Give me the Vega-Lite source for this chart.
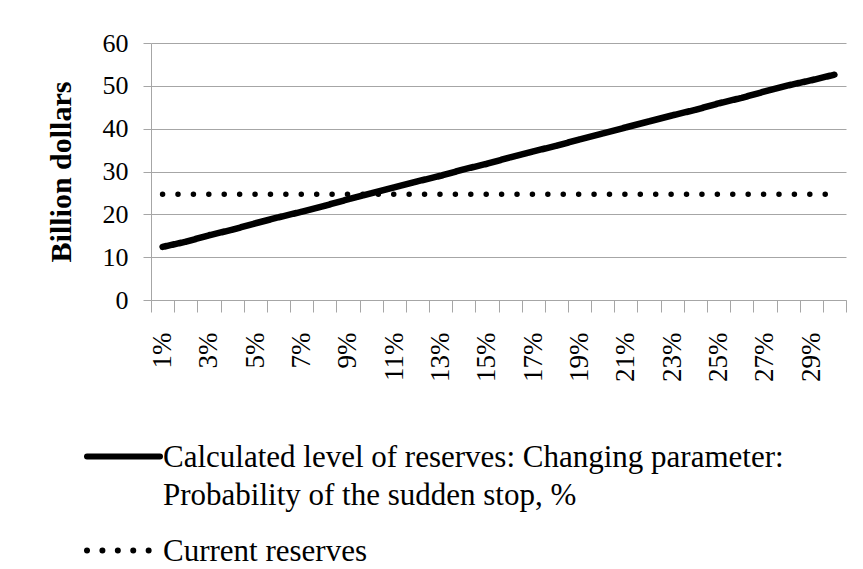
{
  "$schema": "https://vega.github.io/schema/vega-lite/v6.json",
  "width": 695,
  "height": 257,
  "autosize": {"type": "none"},
  "padding": {"left": 151, "top": 43, "right": 17, "bottom": 269},
  "background": "white",
  "config": {
    "view": {"stroke": null},
    "font": "Liberation Serif",
    "axis": {
      "labelFont": "Liberation Serif",
      "labelColor": "black",
      "domainColor": "#a6a6a6",
      "tickColor": "#a6a6a6",
      "gridColor": "#a6a6a6",
      "domainWidth": 1,
      "tickWidth": 1,
      "gridWidth": 1
    }
  },
  "data": {
    "values": [
      {"series": "Calculated level of reserves: Changing parameter: Probability of the sudden stop, %", "p": 1, "value": 12.4},
      {"series": "Calculated level of reserves: Changing parameter: Probability of the sudden stop, %", "p": 2, "value": 13.6},
      {"series": "Calculated level of reserves: Changing parameter: Probability of the sudden stop, %", "p": 3, "value": 15.1},
      {"series": "Calculated level of reserves: Changing parameter: Probability of the sudden stop, %", "p": 4, "value": 16.4},
      {"series": "Calculated level of reserves: Changing parameter: Probability of the sudden stop, %", "p": 5, "value": 17.9},
      {"series": "Calculated level of reserves: Changing parameter: Probability of the sudden stop, %", "p": 6, "value": 19.3},
      {"series": "Calculated level of reserves: Changing parameter: Probability of the sudden stop, %", "p": 7, "value": 20.6},
      {"series": "Calculated level of reserves: Changing parameter: Probability of the sudden stop, %", "p": 8, "value": 22.0},
      {"series": "Calculated level of reserves: Changing parameter: Probability of the sudden stop, %", "p": 9, "value": 23.5},
      {"series": "Calculated level of reserves: Changing parameter: Probability of the sudden stop, %", "p": 10, "value": 24.9},
      {"series": "Calculated level of reserves: Changing parameter: Probability of the sudden stop, %", "p": 11, "value": 26.3},
      {"series": "Calculated level of reserves: Changing parameter: Probability of the sudden stop, %", "p": 12, "value": 27.7},
      {"series": "Calculated level of reserves: Changing parameter: Probability of the sudden stop, %", "p": 13, "value": 29.0},
      {"series": "Calculated level of reserves: Changing parameter: Probability of the sudden stop, %", "p": 14, "value": 30.5},
      {"series": "Calculated level of reserves: Changing parameter: Probability of the sudden stop, %", "p": 15, "value": 31.8},
      {"series": "Calculated level of reserves: Changing parameter: Probability of the sudden stop, %", "p": 16, "value": 33.3},
      {"series": "Calculated level of reserves: Changing parameter: Probability of the sudden stop, %", "p": 17, "value": 34.7},
      {"series": "Calculated level of reserves: Changing parameter: Probability of the sudden stop, %", "p": 18, "value": 36.0},
      {"series": "Calculated level of reserves: Changing parameter: Probability of the sudden stop, %", "p": 19, "value": 37.5},
      {"series": "Calculated level of reserves: Changing parameter: Probability of the sudden stop, %", "p": 20, "value": 38.9},
      {"series": "Calculated level of reserves: Changing parameter: Probability of the sudden stop, %", "p": 21, "value": 40.3},
      {"series": "Calculated level of reserves: Changing parameter: Probability of the sudden stop, %", "p": 22, "value": 41.7},
      {"series": "Calculated level of reserves: Changing parameter: Probability of the sudden stop, %", "p": 23, "value": 43.1},
      {"series": "Calculated level of reserves: Changing parameter: Probability of the sudden stop, %", "p": 24, "value": 44.4},
      {"series": "Calculated level of reserves: Changing parameter: Probability of the sudden stop, %", "p": 25, "value": 45.9},
      {"series": "Calculated level of reserves: Changing parameter: Probability of the sudden stop, %", "p": 26, "value": 47.2},
      {"series": "Calculated level of reserves: Changing parameter: Probability of the sudden stop, %", "p": 27, "value": 48.7},
      {"series": "Calculated level of reserves: Changing parameter: Probability of the sudden stop, %", "p": 28, "value": 50.1},
      {"series": "Calculated level of reserves: Changing parameter: Probability of the sudden stop, %", "p": 29, "value": 51.3},
      {"series": "Calculated level of reserves: Changing parameter: Probability of the sudden stop, %", "p": 30, "value": 52.6},
      {"series": "Current reserves", "p": 1, "value": 24.7},
      {"series": "Current reserves", "p": 2, "value": 24.7},
      {"series": "Current reserves", "p": 3, "value": 24.7},
      {"series": "Current reserves", "p": 4, "value": 24.7},
      {"series": "Current reserves", "p": 5, "value": 24.7},
      {"series": "Current reserves", "p": 6, "value": 24.7},
      {"series": "Current reserves", "p": 7, "value": 24.7},
      {"series": "Current reserves", "p": 8, "value": 24.7},
      {"series": "Current reserves", "p": 9, "value": 24.7},
      {"series": "Current reserves", "p": 10, "value": 24.7},
      {"series": "Current reserves", "p": 11, "value": 24.7},
      {"series": "Current reserves", "p": 12, "value": 24.7},
      {"series": "Current reserves", "p": 13, "value": 24.7},
      {"series": "Current reserves", "p": 14, "value": 24.7},
      {"series": "Current reserves", "p": 15, "value": 24.7},
      {"series": "Current reserves", "p": 16, "value": 24.7},
      {"series": "Current reserves", "p": 17, "value": 24.7},
      {"series": "Current reserves", "p": 18, "value": 24.7},
      {"series": "Current reserves", "p": 19, "value": 24.7},
      {"series": "Current reserves", "p": 20, "value": 24.7},
      {"series": "Current reserves", "p": 21, "value": 24.7},
      {"series": "Current reserves", "p": 22, "value": 24.7},
      {"series": "Current reserves", "p": 23, "value": 24.7},
      {"series": "Current reserves", "p": 24, "value": 24.7},
      {"series": "Current reserves", "p": 25, "value": 24.7},
      {"series": "Current reserves", "p": 26, "value": 24.7},
      {"series": "Current reserves", "p": 27, "value": 24.7},
      {"series": "Current reserves", "p": 28, "value": 24.7},
      {"series": "Current reserves", "p": 29, "value": 24.7},
      {"series": "Current reserves", "p": 30, "value": 24.7}
    ]
  },
  "encoding": {
    "y": {
      "field": "value",
      "type": "quantitative",
      "scale": {"domain": [0, 60], "nice": false},
      "axis": {
        "title": "Billion dollars",
        "titleFont": "Liberation Serif",
        "titleFontSize": 30,
        "titleFontWeight": "bold",
        "titleColor": "black",
        "titlePadding": 26,
        "values": [0, 10, 20, 30, 40, 50, 60],
        "grid": true,
        "tickSize": 8,
        "labelFontSize": 26,
        "labelPadding": 15
      }
    },
    "strokeDash": {
      "field": "series",
      "type": "nominal",
      "scale": {
        "domain": ["Calculated level of reserves: Changing parameter: Probability of the sudden stop, %", "Current reserves"],
        "range": [[1, 0], [0.01, 15.4]]
      },
      "legend": {
        "title": null,
        "orient": "none",
        "legendX": -67,
        "legendY": 374,
        "direction": "vertical",
        "padding": 0,
        "symbolType": "stroke",
        "symbolSize": 5329,
        "symbolStrokeWidth": 6,
        "symbolStrokeColor": "black",
        "labelFont": "Liberation Serif",
        "labelFontSize": 31,
        "labelColor": "black",
        "labelLimit": 0,
        "labelOffset": 0,
        "labelBaseline": "alphabetic",
        "rowPadding": 0,
        "labelExpr": "datum.label == 'Current reserves' ? datum.label : ['Calculated level of reserves: Changing parameter:', 'Probability of the sudden stop, %']",
        "encode": {
          "labels": {"update": {"dy": {"value": 10}, "lineHeight": {"value": 38}}},
          "symbols": {"update": {"strokeCap": {"value": "round"}}}
        }
      }
    }
  },
  "layer": [
    {
      "transform": [{"filter": "datum.series != 'Current reserves'"}],
      "mark": {"type": "line", "color": "black", "strokeWidth": 6.5, "strokeCap": "round", "strokeJoin": "round"},
      "encoding": {
        "x": {
          "field": "p",
          "type": "quantitative",
          "scale": {"domain": [0.5, 30.5], "nice": false, "zero": false},
          "axis": {
            "orient": "bottom",
            "title": null,
            "values": [0.5, 1.5, 2.5, 3.5, 4.5, 5.5, 6.5, 7.5, 8.5, 9.5, 10.5, 11.5, 12.5, 13.5, 14.5, 15.5, 16.5, 17.5, 18.5, 19.5, 20.5, 21.5, 22.5, 23.5, 24.5, 25.5, 26.5, 27.5, 28.5, 29.5, 30.5],
            "labels": false,
            "grid": false,
            "tickSize": 12
          }
        }
      }
    },
    {
      "transform": [{"filter": "datum.series == 'Current reserves'"}],
      "mark": {"type": "line", "color": "black", "strokeWidth": 5.5, "strokeCap": "round"},
      "encoding": {
        "x": {
          "field": "p",
          "type": "quantitative",
          "scale": {"domain": [0.5, 30.5], "nice": false, "zero": false},
          "axis": {
            "orient": "bottom",
            "title": null,
            "values": [1, 3, 5, 7, 9, 11, 13, 15, 17, 19, 21, 23, 25, 27, 29],
            "labelExpr": "datum.value + '%'",
            "labelAngle": 270,
            "labelFontSize": 27,
            "labelPadding": 32,
            "labelFlush": false,
            "labelOverlap": false,
            "ticks": false,
            "domain": false,
            "grid": false
          }
        }
      }
    }
  ],
  "resolve": {"axis": {"x": "independent"}}
}
